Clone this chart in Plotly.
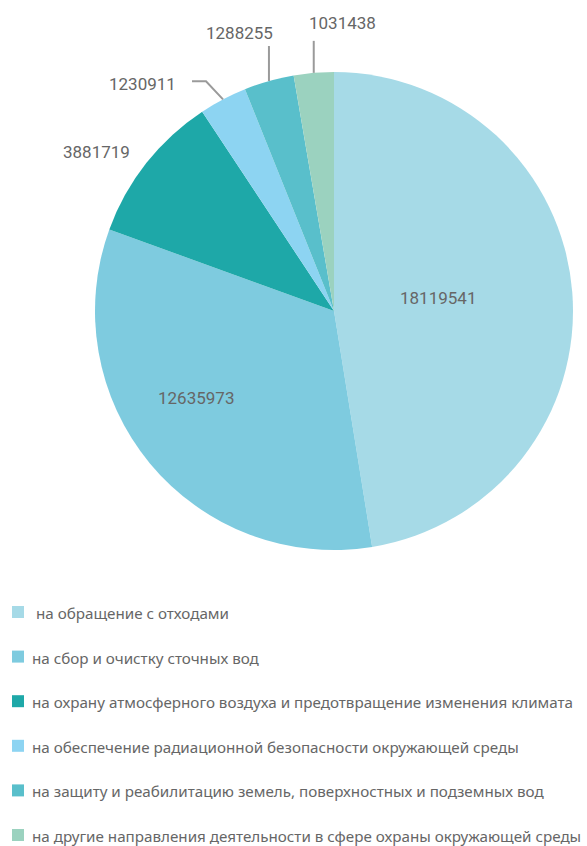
import math
import plotly.graph_objects as go

# Expenditure by direction of environmental protection
categories = [
    " на обращение с отходами",
    "на сбор и очистку сточных вод",
    "на охрану атмосферного воздуха и предотвращение изменения климата",
    "на обеспечение радиационной безопасности окружающей среды",
    "на защиту и реабилитацию земель, поверхностных и подземных вод",
    "на другие направления деятельности в сфере охраны окружающей среды",
]
values = [18119541, 12635973, 3881719, 1230911, 1288255, 1031438]
colors = ["#a6dae7", "#7ecbdf", "#1ea8a8", "#8dd4f2", "#59bfcb", "#9bd2bf"]

W, H = 587, 846
CX, CY, R = 334, 311, 239
TEXT_GREY = "#666666"
LINE_GREY = "#9a9a9a"
NUM_FONT = dict(family="Roboto", size=17, color=TEXT_GREY)
LEG_FONT = dict(family="Noto Sans", size=15.2, color=TEXT_GREY)


def px(x):
    return x / W


def py(y):
    return 1 - y / H


total = sum(values)
mids = []
acc = 0
for v in values:
    mids.append((acc + v / 2) / total * 2 * math.pi)
    acc += v


def polar(i, k=1.0):
    a = mids[i]
    return CX + k * R * math.sin(a), CY - k * R * math.cos(a)


fig = go.Figure(
    go.Pie(
        labels=categories,
        values=values,
        marker=dict(colors=colors, line=dict(width=0)),
        sort=False,
        direction="clockwise",
        rotation=0,
        textinfo="none",
        hoverinfo="label+value",
        showlegend=False,
        domain=dict(x=[px(CX - R), px(CX + R)], y=[py(CY + R), py(CY - R)]),
    )
)

annotations = []
shapes = []


def label(text, x, y, xanchor="center"):
    annotations.append(dict(
        text=text, x=px(x), y=py(y), xref="paper", yref="paper",
        xanchor=xanchor, yanchor="middle", showarrow=False, font=NUM_FONT,
    ))


def leader(points):
    path = "M " + " L ".join(f"{px(x)},{py(y)}" for x, y in points)
    shapes.append(dict(type="path", path=path, xref="paper", yref="paper",
                       line=dict(color=LINE_GREY, width=2)))


fmt = lambda v: str(v)

# inside labels for the two large slices
x, y = polar(0, 0.435)
label(fmt(values[0]), x, y - 5)
x, y = polar(1, 0.68)
label(fmt(values[1]), x - 13, y - 17)

# outside label without connector
x, y = polar(2)
label(fmt(values[2]), x - 14, y - 11, "right")

# outside labels with connectors
x, y = polar(3)
leader([(x, y), (x - 17, y - 18), (x - 31, y - 18)])
label(fmt(values[3]), x - 45, y - 15, "right")

x, y = polar(4)
leader([(x, y), (x, y - 35)])
label(fmt(values[4]), x + 6, y - 48, "right")

x, y = polar(5)
leader([(x, y), (x, y - 32)])
label(fmt(values[5]), x - 7, y - 50, "left")

# legend
LEG_TOP, LEG_STEP = 612, 44.6
for i, (name, c) in enumerate(zip(categories, colors)):
    yc = LEG_TOP + i * LEG_STEP
    shapes.append(dict(type="rect", xref="paper", yref="paper",
                       x0=px(12), x1=px(24), y0=py(yc + 6), y1=py(yc - 6),
                       fillcolor=c, line=dict(width=0)))
    annotations.append(dict(
        text=name, x=px(30), y=py(yc + 1), xref="paper", yref="paper",
        xanchor="left", yanchor="middle", showarrow=False, font=LEG_FONT,
    ))

fig.update_layout(
    width=W, height=H,
    margin=dict(l=0, r=0, t=0, b=0),
    paper_bgcolor="white", plot_bgcolor="white",
    annotations=annotations, shapes=shapes,
)

fig.write_html("out.html")
